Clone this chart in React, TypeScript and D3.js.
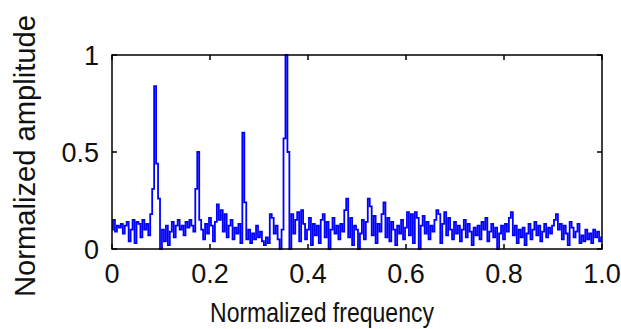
import React, { useEffect, useRef } from "react";
import * as d3 from "d3";

// frequency bins, step 0.004 from 0 to 1.0
const amplitude = [
  0.10, 0.15, 0.09, 0.12, 0.11, 0.13, 0.08, 0.12, 0.14, 0.04,
  0.10, 0.15, 0.03, 0.14, 0.13, 0.06, 0.15, 0.10, 0.13, 0.07,
  0.18, 0.31, 0.84, 0.44, 0.26, 0.00, 0.10, 0.04, 0.12, 0.02,
  0.09, 0.14, 0.06, 0.12, 0.15, 0.10, 0.12, 0.07, 0.14, 0.11,
  0.15, 0.12, 0.09, 0.31, 0.50, 0.15, 0.10, 0.05, 0.13, 0.08,
  0.16, 0.12, 0.04, 0.14, 0.23, 0.15, 0.20, 0.09, 0.18, 0.06,
  0.12, 0.15, 0.05, 0.11, 0.08, 0.13, 0.03, 0.60, 0.24, 0.05,
  0.10, 0.03, 0.08, 0.05, 0.12, 0.06, 0.09, 0.04, 0.02, 0.06,
  0.03, 0.18, 0.16, 0.08, 0.12, 0.05, 0.00, 0.10, 0.57, 1.00,
  0.50, 0.00, 0.18, 0.08, 0.15, 0.19, 0.04, 0.20, 0.13, 0.05,
  0.10, 0.16, 0.02, 0.13, 0.07, 0.12, 0.03, 0.15, 0.18, 0.06,
  0.14, 0.00, 0.10, 0.16, 0.08, 0.12, 0.05, 0.13, 0.09, 0.20,
  0.26, 0.06, 0.16, 0.02, 0.12, 0.10, 0.00, 0.08, 0.15, 0.05,
  0.14, 0.26, 0.22, 0.07, 0.17, 0.03, 0.13, 0.09, 0.18, 0.24,
  0.06, 0.16, 0.04, 0.14, 0.10, 0.02, 0.12, 0.08, 0.15, 0.05,
  0.11, 0.19, 0.07, 0.18, 0.03, 0.19, 0.16, 0.00, 0.12, 0.17,
  0.08, 0.14, 0.05, 0.12, 0.09, 0.15, 0.20, 0.18, 0.03, 0.13,
  0.19, 0.07, 0.16, 0.10, 0.05, 0.14, 0.08, 0.12, 0.04, 0.10,
  0.15, 0.06, 0.13, 0.09, 0.02, 0.11, 0.07, 0.12, 0.05, 0.14,
  0.10, 0.16, 0.04, 0.09, 0.13, 0.06, 0.11, 0.00, 0.08, 0.12,
  0.05, 0.13, 0.09, 0.16, 0.19, 0.07, 0.12, 0.03, 0.10, 0.06,
  0.11, 0.02, 0.08, 0.13, 0.05, 0.10, 0.14, 0.07, 0.12, 0.04,
  0.09, 0.13, 0.06, 0.11, 0.08, 0.12, 0.15, 0.18, 0.10, 0.13,
  0.05, 0.12, 0.08, 0.02, 0.14, 0.11, 0.06, 0.09, 0.13, 0.03,
  0.07, 0.04, 0.10, 0.05, 0.08, 0.03, 0.10, 0.06, 0.09, 0.04, 0.06,
];
const freqStep = 0.004;
const xTicks = [0, 0.2, 0.4, 0.6, 0.8, 1.0];
const xTickLabels = ["0", "0.2", "0.4", "0.6", "0.8", "1.0"];
const yTicks = [0, 0.5, 1];
const yTickLabels = ["0", "0.5", "1"];

const App = () => {
  const svgRef = useRef<SVGSVGElement>(null);

  useEffect(() => {
    const margin = { top: 55, right: 19, bottom: 80, left: 112 };
    const W = 621;
    const H = 329;
    const width = W - margin.left - margin.right;
    const height = H - margin.top - margin.bottom;
    const font = "'Liberation Sans', Arial, sans-serif";

    const root = d3.select(svgRef.current);
    root.selectAll("*").remove();
    root.attr("width", W).attr("height", H);

    const svg = root
      .append("g")
      .attr("transform", `translate(${margin.left},${margin.top})`);

    const x = d3.scaleLinear().domain([0, 1]).range([0, width]);
    const y = d3.scaleLinear().domain([0, 1]).range([height, 0]);

    const line = d3
      .line<number>()
      .x((d, i) => x(i * freqStep))
      .y((d) => y(d))
      .curve(d3.curveStep);

    svg
      .append("path")
      .datum(amplitude)
      .attr("d", line)
      .attr("fill", "none")
      .attr("stroke", "#0000ff")
      .attr("stroke-width", 1.8);

    // box
    svg
      .append("rect")
      .attr("x", 0)
      .attr("y", 0)
      .attr("width", width)
      .attr("height", height)
      .attr("fill", "none")
      .attr("stroke", "#000")
      .attr("stroke-width", 1.5);

    const tk = 5;
    xTicks.forEach((t, i) => {
      svg.append("line").attr("x1", x(t)).attr("x2", x(t)).attr("y1", height).attr("y2", height - tk)
        .attr("stroke", "#000").attr("stroke-width", 1.5);
      svg.append("line").attr("x1", x(t)).attr("x2", x(t)).attr("y1", 0).attr("y2", tk)
        .attr("stroke", "#000").attr("stroke-width", 1.5);
      svg.append("text")
        .attr("x", x(t))
        .attr("y", height + 34)
        .attr("text-anchor", "middle")
        .attr("font-family", font)
        .attr("font-size", 27)
        .attr("fill", "#111")
        .text(xTickLabels[i]);
    });

    yTicks.forEach((t, i) => {
      svg.append("line").attr("x1", 0).attr("x2", tk).attr("y1", y(t)).attr("y2", y(t))
        .attr("stroke", "#000").attr("stroke-width", 1.5);
      svg.append("line").attr("x1", width).attr("x2", width - tk).attr("y1", y(t)).attr("y2", y(t))
        .attr("stroke", "#000").attr("stroke-width", 1.5);
      svg.append("text")
        .attr("x", -13)
        .attr("y", y(t) + 10)
        .attr("text-anchor", "end")
        .attr("font-family", font)
        .attr("font-size", 27)
        .attr("fill", "#111")
        .text(yTickLabels[i]);
    });

    // X-axis label
    root
      .append("text")
      .attr("x", 210)
      .attr("y", 322)
      .attr("font-family", font)
      .attr("font-size", 28)
      .attr("textLength", 224)
      .attr("lengthAdjust", "spacingAndGlyphs")
      .attr("fill", "#111")
      .text("Normalized frequency");

    // Y-axis label
    root
      .append("text")
      .attr("transform", "translate(35,297) rotate(-90)")
      .attr("x", 0)
      .attr("y", 0)
      .attr("font-family", font)
      .attr("font-size", 29)
      .attr("textLength", 282)
      .attr("lengthAdjust", "spacingAndGlyphs")
      .attr("fill", "#111")
      .text("Normalized amplitude");
  }, []);

  return (
    <div style={{ position: "absolute", left: 0, top: 0 }}>
      <svg ref={svgRef}></svg>
    </div>
  );
};

export default App;
